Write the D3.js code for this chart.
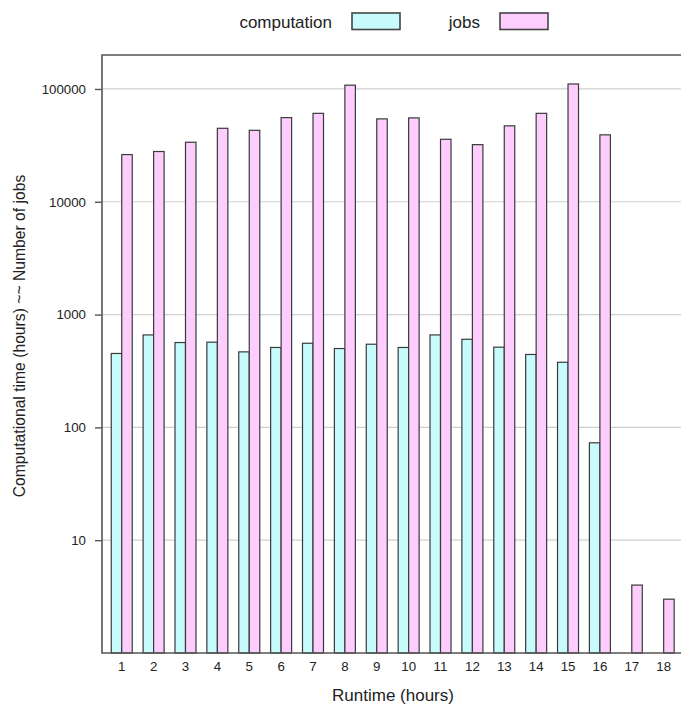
<!DOCTYPE html>
<html>
<head>
<meta charset="utf-8">
<script src="https://cdn.jsdelivr.net/npm/d3@7"></script>
<style>
  html, body { margin: 0; padding: 0; background: #fff; }
  svg { display: block; font-family: "Liberation Sans", Arial, sans-serif; }
</style>
</head>
<body>
<svg id="chart" width="681" height="705"></svg>
<script>
// Runtime buckets (hours)
const categories = [1, 2, 3, 4, 5, 6, 7, 8, 9, 10, 11, 12, 13, 14, 15, 16, 17, 18];
// Total computational time (hours) per runtime bucket
const computation = [452, 660, 565, 569, 467, 511, 557, 500, 546, 511, 660, 604, 514, 443, 378, 73, 0, 0];
// Number of jobs per runtime bucket
const jobs = [26200, 27900, 33700, 44800, 43000, 55700, 60800, 108000, 54300, 55400, 35800, 32100, 47100, 60800, 110700, 39200, 4, 3];
const seriesNames = ["computation", "jobs"];
const seriesColors = ["#c8fcfc", "#fdcdfd"];
const yTicks = [10, 100, 1000, 10000, 100000];

const svg = d3.select("#chart");
const plot = { left: 102, top: 55, right: 692, bottom: 653 };

const x = d3.scaleBand()
  .domain(categories)
  .range([105.8, 679.6]);

const groupW = 21;
const x1 = d3.scaleBand()
  .domain(seriesNames)
  .range([(x.bandwidth() - groupW) / 2, (x.bandwidth() + groupW) / 2]);

const y = d3.scaleLog()
  .domain([1, 2e5])
  .range([plot.bottom, plot.top]);

// horizontal grid lines at each decade
svg.append("g")
  .selectAll("line")
  .data(yTicks)
  .join("line")
  .attr("x1", plot.left)
  .attr("x2", plot.right)
  .attr("y1", d => y(d))
  .attr("y2", d => y(d))
  .attr("stroke", "#cfcfcf")
  .attr("stroke-width", 1.2);

// bars
const rows = categories.map((c, i) => ({ cat: c, values: [computation[i], jobs[i]] }));
const groups = svg.append("g")
  .selectAll("g")
  .data(rows)
  .join("g")
  .attr("transform", d => `translate(${x(d.cat)},0)`);

groups.selectAll("rect")
  .data(d => d.values.map((v, k) => ({ key: seriesNames[k], value: v, k })).filter(e => e.value > 0))
  .join("rect")
  .attr("x", d => x1(d.key))
  .attr("width", x1.bandwidth())
  .attr("y", d => y(d.value))
  .attr("height", d => y(1) - y(d.value))
  .attr("fill", d => seriesColors[d.k])
  .attr("stroke", "#3a3a3a")
  .attr("stroke-width", 1.2);

// plot frame
svg.append("path")
  .attr("d", `M${plot.right},${plot.top}H${plot.left}V${plot.bottom}H${plot.right}`)
  .attr("fill", "none")
  .attr("stroke", "#555")
  .attr("stroke-width", 1.6);

// y axis
const yAxis = d3.axisLeft(y)
  .tickValues(yTicks)
  .tickFormat(d3.format("d"))
  .tickSize(7)
  .tickPadding(9);
const gy = svg.append("g")
  .attr("transform", `translate(${plot.left},0)`)
  .call(yAxis);
gy.select(".domain").remove();
gy.selectAll(".tick line").attr("stroke", "#555").attr("stroke-width", 1.4);
gy.selectAll(".tick text")
  .attr("font-size", 13.3)
  .attr("font-family", "'Liberation Sans', Arial, sans-serif")
  .attr("fill", "#222");

// x axis labels (no tick marks)
const xAxis = d3.axisBottom(x).tickSize(0).tickPadding(9);
const gx = svg.append("g")
  .attr("transform", `translate(0,${plot.bottom})`)
  .call(xAxis);
gx.select(".domain").remove();
gx.selectAll(".tick text")
  .attr("font-size", 13.3)
  .attr("font-family", "'Liberation Sans', Arial, sans-serif")
  .attr("fill", "#222");

// axis titles
svg.append("text")
  .attr("x", 393)
  .attr("y", 701)
  .attr("text-anchor", "middle")
  .attr("font-size", 17)
  .attr("fill", "#222")
  .text("Runtime (hours)");

svg.append("text")
  .attr("transform", "translate(25,336) rotate(-90)")
  .attr("text-anchor", "middle")
  .attr("font-size", 15.7)
  .attr("fill", "#222")
  .text("Computational time (hours) ~~ Number of jobs");

// legend
const legend = [
  { label: "computation", textX: 332, boxX: 352, color: seriesColors[0] },
  { label: "jobs", textX: 480, boxX: 500, color: seriesColors[1] }
];
const lg = svg.append("g");
lg.selectAll("text")
  .data(legend)
  .join("text")
  .attr("x", d => d.textX)
  .attr("y", 28)
  .attr("text-anchor", "end")
  .attr("font-size", 17)
  .attr("fill", "#222")
  .text(d => d.label);
lg.selectAll("rect")
  .data(legend)
  .join("rect")
  .attr("x", d => d.boxX)
  .attr("y", 13)
  .attr("width", 48)
  .attr("height", 16.5)
  .attr("fill", d => d.color)
  .attr("stroke", "#444")
  .attr("stroke-width", 1.6);
</script>
</body>
</html>
